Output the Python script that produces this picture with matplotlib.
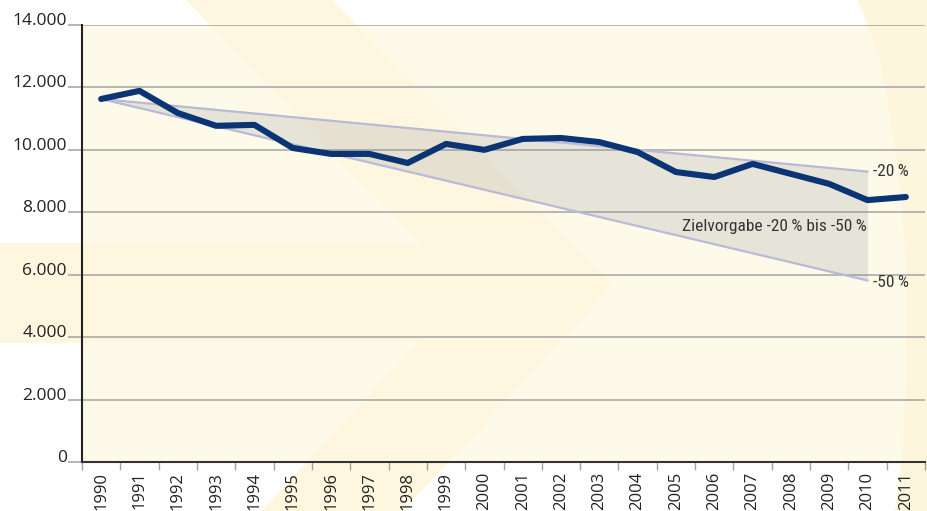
import matplotlib.pyplot as plt
from matplotlib.patches import Polygon, Rectangle
from matplotlib.ticker import FuncFormatter, MultipleLocator

years = list(range(1990, 2012))
values = [11630, 11890, 11180, 10770, 10800, 10060, 9870, 9870, 9580, 10190, 10000,
          10350, 10380, 10250, 9930, 9290, 9130, 9550, 9230, 8910, 8390, 8490]

base = values[0]
target_years = [1990, 2010]
target_20 = [base, base * 0.8]
target_50 = [base, base * 0.5]

narrow = ['Liberation Sans Narrow', 'DejaVu Sans Condensed', 'Roboto Condensed', 'DejaVu Sans']
plt.rcParams['font.family'] = ['Open Sans', 'DejaVu Sans']

W, H = 928, 511
fig = plt.figure(figsize=(W / 100, H / 100), dpi=100)
fig.patch.set_facecolor('white')

# main axes placed in pixel terms
left, right, top, bottom = 82, 925, 25, 462
ax = fig.add_axes([left / W, (H - bottom) / H, (right - left) / W, (bottom - top) / H], zorder=2)
ax.set_facecolor('none')

# decorative background
bg = fig.add_axes([0, 0, 1, 1], zorder=0)
bg.set_xlim(0, W)
bg.set_ylim(H, 0)
bg.axis('off')
bg.add_patch(Rectangle((left, top), right - left, bottom - top, color='#fefaea', lw=0))
chevron = [(0, 243), (420, 243), (186, 0), (332, 0), (613, 285), (403, 511),
           (261, 511), (418, 343), (0, 343)]
bg.add_patch(Polygon(chevron, closed=True, color='#fef6de', lw=0))
band = [(858, 0), (928, 0), (928, 511), (895, 511), (903, 450), (907, 350),
        (905, 250), (896, 150), (880, 60)]
bg.add_patch(Polygon(band, closed=True, color='#fef6dc', lw=0))

# target corridor
ax.fill_between(target_years, target_50, target_20, color='#8a8c99', alpha=0.2, lw=0, zorder=2)
ax.plot(target_years, target_20, color='#b9bad6', lw=1.6, zorder=3)
ax.plot(target_years, target_50, color='#b9bad6', lw=1.6, zorder=3)

ax.plot(years, values, color='#0b3474', lw=4.4, solid_joinstyle='round',
        solid_capstyle='round', zorder=5)

ax.text(2010.15, target_20[1], '-20\u2009%', family=narrow, fontsize=12.5,
        color='#333333', ha='left', va='center')
ax.text(2010.15, target_50[1] - 80, '-50\u2009%', family=narrow, fontsize=12.5,
        color='#333333', ha='left', va='center')
ax.text(2009.97, 7560, 'Zielvorgabe -20\u2009% bis -50\u2009%', family=narrow,
        fontsize=12.5, color='#333333', ha='right', va='center')

ax.set_xlim(1989.5, 2011.5)
ax.set_ylim(0, 14000)
ax.yaxis.set_major_locator(MultipleLocator(2000))
ax.yaxis.set_major_formatter(FuncFormatter(lambda v, p: f'{int(v):,}'.replace(',', '.')))
ax.set_xticks(years)
ax.set_xticks([y - 0.5 for y in years] + [2011.5], minor=True)
ax.set_xticklabels([str(y) for y in years], rotation=90, va='top', ha='center')
ax.tick_params(axis='x', which='major', length=0, pad=7, labelsize=12, labelcolor='#222222')
ax.tick_params(axis='x', which='minor', length=5.5, width=1, color='#a0a0a0')
ax.tick_params(axis='y', length=10, width=1.1, color='#a0a0a0', pad=1,
               labelsize=12.5, labelcolor='#222222')
for lab in ax.get_yticklabels():
    lab.set_verticalalignment('baseline')

ax.grid(axis='y', color='#a3a3a3', lw=1.1, zorder=1)
ax.set_axisbelow(True)
for s in ['top', 'right']:
    ax.spines[s].set_visible(False)
ax.spines['left'].set_color('#222222')
ax.spines['left'].set_linewidth(1.5)
ax.spines['bottom'].set_color('#333333')
ax.spines['bottom'].set_linewidth(1.5)

fig.savefig('out.png', dpi=100)
